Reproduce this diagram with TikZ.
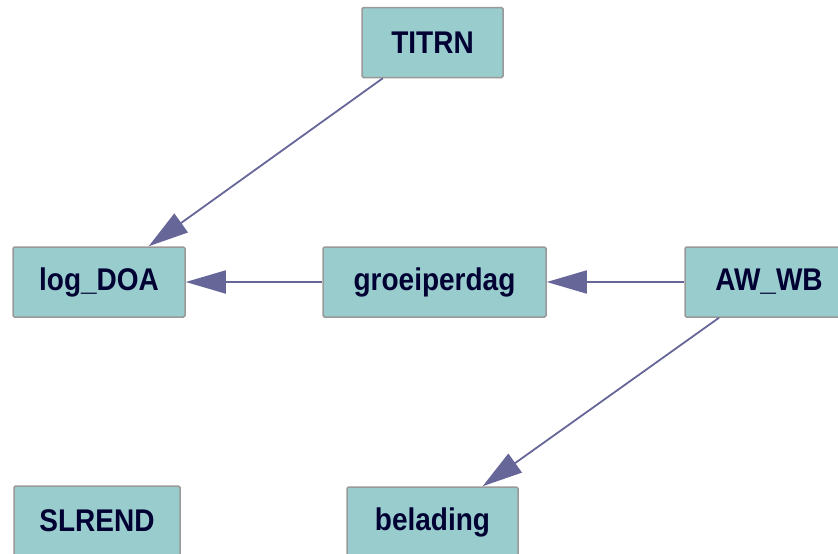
\documentclass[tikz,border=0pt]{standalone}
\usepackage{fontspec}
\setmainfont{Liberation Sans}
\usetikzlibrary{arrows.meta}
\definecolor{boxfill}{HTML}{99CCCC}
\definecolor{boxline}{HTML}{999999}
\definecolor{linkcol}{HTML}{666699}
\definecolor{labelcol}{HTML}{000033}
\begin{document}
\begin{tikzpicture}[x=1pt,y=-1pt,
  varbox/.style={draw=boxline, line width=1.5pt, fill=boxfill, rounded corners=1.5pt,
    minimum height=70pt, inner sep=0pt, text=labelcol,
    font=\bfseries\fontsize{28}{30}\selectfont},
  link/.style={draw=linkcol, line width=1.8pt,
    -{Triangle[length=40pt, width=23pt]}}]
  \useasboundingbox (0,0) rectangle (838,554);
  \node[varbox, minimum width=141pt] (titrn) at (432.5,42.5) {\scalebox{1}[1.12]{TITRN}};
  \node[varbox, minimum width=172pt] (logdoa) at (99,282) {\scalebox{1}[1.12]{log\_DOA}};
  \node[varbox, minimum width=223pt] (groei) at (434.5,282) {\scalebox{1}[1.12]{groeiperdag}};
  \node[varbox, minimum width=168pt] (awwb) at (769,282) {\scalebox{1}[1.12]{AW\_WB}};
  \node[varbox, minimum width=171pt] (belading) at (432.5,522) {\scalebox{1}[1.12]{belading}};
  \node[varbox, minimum width=166pt] (slrend) at (97,521) {\scalebox{1}[1.12]{SLREND}};
  \draw[link] (titrn) -- (logdoa);
  \draw[link] (groei) -- (logdoa);
  \draw[link] (awwb) -- (groei);
  \draw[link] (awwb) -- (belading);
\end{tikzpicture}
\end{document}
